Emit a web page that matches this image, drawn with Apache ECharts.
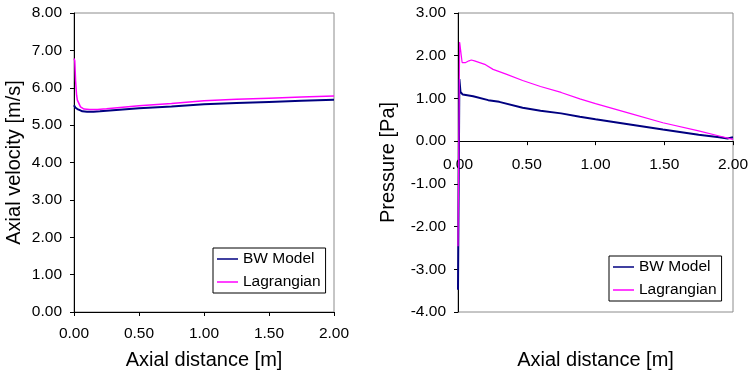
<!DOCTYPE html>
<html>
<head>
<meta charset="utf-8">
<script src="https://cdn.jsdelivr.net/npm/echarts@6/dist/echarts.min.js"></script>
<style>
html,body{margin:0;padding:0;background:#fff;}
#chart{width:748px;height:373px;}
</style>
</head>
<body>
<div id="chart"></div>
<script>
// ---- Data ----
var seriesNames = ['BW Model', 'Lagrangian'];

// Left: Axial velocity [m/s] vs Axial distance [m]
var velX_bw  = [0, 0.01, 0.026, 0.045, 0.064, 0.1, 0.15, 0.2, 0.3, 0.5, 0.75, 1.0, 1.25, 1.5, 1.75, 2.0];
var velBW    = [5.53, 5.47, 5.43, 5.40, 5.37, 5.36, 5.36, 5.37, 5.40, 5.45, 5.50, 5.56, 5.59, 5.62, 5.65, 5.68];
var velX_lag = [0, 0.006, 0.012, 0.02, 0.026, 0.05, 0.077, 0.12, 0.18, 0.25, 0.5, 0.75, 1.0, 1.25, 1.5, 1.75, 2.0];
var velLag   = [6.78, 6.72, 6.2, 5.8, 5.67, 5.49, 5.43, 5.42, 5.42, 5.44, 5.52, 5.58, 5.65, 5.69, 5.72, 5.75, 5.78];

// Right: Pressure [Pa] vs Axial distance [m]
var presX_bw  = [0, 0.01, 0.018, 0.035, 0.11, 0.22, 0.3, 0.47, 0.6, 0.75, 0.886, 1.0, 1.25, 1.49, 1.75, 1.9, 1.96, 2.0];
var presBW    = [-3.48, 1.45, 1.15, 1.09, 1.05, 0.96, 0.92, 0.78, 0.71, 0.65, 0.57, 0.51, 0.39, 0.27, 0.15, 0.09, 0.06, 0.09];
var presX_lag = [0, 0.012, 0.03, 0.056, 0.08, 0.097, 0.12, 0.2, 0.255, 0.35, 0.47, 0.6, 0.75, 0.886, 1.0, 1.25, 1.49, 1.75, 1.9, 2.0];
var presLag   = [-2.46, 2.32, 1.84, 1.84, 1.88, 1.90, 1.88, 1.79, 1.68, 1.57, 1.42, 1.28, 1.14, 0.99, 0.88, 0.65, 0.43, 0.24, 0.12, 0.04];

// Axis ranges / tick labels
var xTicks = [0, 0.5, 1.0, 1.5, 2.0];
var velRange = [0, 8];
var presRange = [-4, 3];

function pairs(xs, ys){ return xs.map(function(x,i){ return [x, ys[i]]; }); }

var FONT = 'Liberation Sans, Arial, sans-serif';
var fmt = function(v){ return v.toFixed(2); };

// grid geometry (pixels)
var G_TOP = 13, G_BOTTOM = 61, H = 373;
var plotH = H - G_TOP - G_BOTTOM;
// offset that lifts the right x axis onto pressure = 0
var zeroOffset = -plotH * (0 - presRange[0]) / (presRange[1] - presRange[0]);

var chart = echarts.init(document.getElementById('chart'), null, {renderer:'canvas'});

function xAxisCfg(gridIndex, nameGap, offset, labelMargin){
  return {
    type:'value', gridIndex:gridIndex, min:xTicks[0], max:xTicks[xTicks.length-1], interval:0.5,
    position:'bottom', offset:offset,
    name:'Axial distance [m]', nameLocation:'middle', nameGap:nameGap,
    nameTextStyle:{fontFamily:FONT, fontSize:20, color:'#000'},
    axisLine:{show:true, onZero:false, lineStyle:{color:'#000', width:1}},
    axisTick:{show:true, length:4, lineStyle:{color:'#000'}},
    axisLabel:{formatter:fmt, fontFamily:FONT, fontSize:15.5, color:'#000', margin:labelMargin, showMinLabel:true, showMaxLabel:true},
    splitLine:{show:false}
  };
}
function yAxisCfg(gridIndex, range, name, nameGap){
  return {
    type:'value', gridIndex:gridIndex, min:range[0], max:range[1], interval:1,
    name:name, nameLocation:'middle', nameGap:nameGap, nameRotate:90,
    nameTextStyle:{fontFamily:FONT, fontSize:20, color:'#000'},
    axisLine:{show:true, lineStyle:{color:'#000', width:1}},
    axisTick:{show:true, length:4, lineStyle:{color:'#000'}},
    axisLabel:{formatter:fmt, fontFamily:FONT, fontSize:15.5, color:'#000', margin:12},
    splitLine:{show:false}
  };
}

function legendCfg(left, top){
  return {
    left:left, top:top, orient:'vertical',
    data:seriesNames.map(function(n){ return {name:n, icon:'rect'}; }),
    backgroundColor:'#fff', borderColor:'#000', borderWidth:1, borderRadius:0,
    padding:[3,5,3,4], itemWidth:21, itemHeight:1.5, itemGap:7,
    itemStyle:{borderWidth:0},
    textStyle:{fontFamily:FONT, fontSize:15.5, color:'#000'}
  };
}

var option = {
  animation:false,
  backgroundColor:'#fff',
  grid:[
    {left:74, right:414, top:G_TOP, bottom:G_BOTTOM, show:true, borderColor:'#8c8c8c', borderWidth:1, backgroundColor:'transparent', containLabel:false, outerBoundsMode:'none'},
    {left:458, right:15, top:G_TOP, bottom:G_BOTTOM, show:true, borderColor:'#8c8c8c', borderWidth:1, backgroundColor:'transparent', containLabel:false, outerBoundsMode:'none'}
  ],
  xAxis:[ xAxisCfg(0, 38, 0, 14), xAxisCfg(1, 209, zeroOffset, 16) ],
  yAxis:[
    yAxisCfg(0, velRange, 'Axial velocity [m/s]', 50),
    yAxisCfg(1, presRange, 'Pressure [Pa]', 60)
  ],
  legend:[ legendCfg(213, 248), legendCfg(609, 256) ],
  series:[
    {name:'BW Model', type:'line', xAxisIndex:0, yAxisIndex:0, data:pairs(velX_bw, velBW),
     symbol:'none', lineStyle:{color:'#000080', width:2}, itemStyle:{color:'#000080'}, z:2},
    {name:'Lagrangian', type:'line', xAxisIndex:0, yAxisIndex:0, data:pairs(velX_lag, velLag),
     symbol:'none', lineStyle:{color:'#ff00ff', width:1.5}, itemStyle:{color:'#ff00ff'}, z:3},
    {name:'BW Model', type:'line', xAxisIndex:1, yAxisIndex:1, data:pairs(presX_bw, presBW),
     symbol:'none', lineStyle:{color:'#000080', width:2}, itemStyle:{color:'#000080'}, z:2},
    {name:'Lagrangian', type:'line', xAxisIndex:1, yAxisIndex:1, data:pairs(presX_lag, presLag),
     symbol:'none', lineStyle:{color:'#ff00ff', width:1.2}, itemStyle:{color:'#ff00ff'}, z:3}
  ]
};
chart.setOption(option);
</script>
</body>
</html>
